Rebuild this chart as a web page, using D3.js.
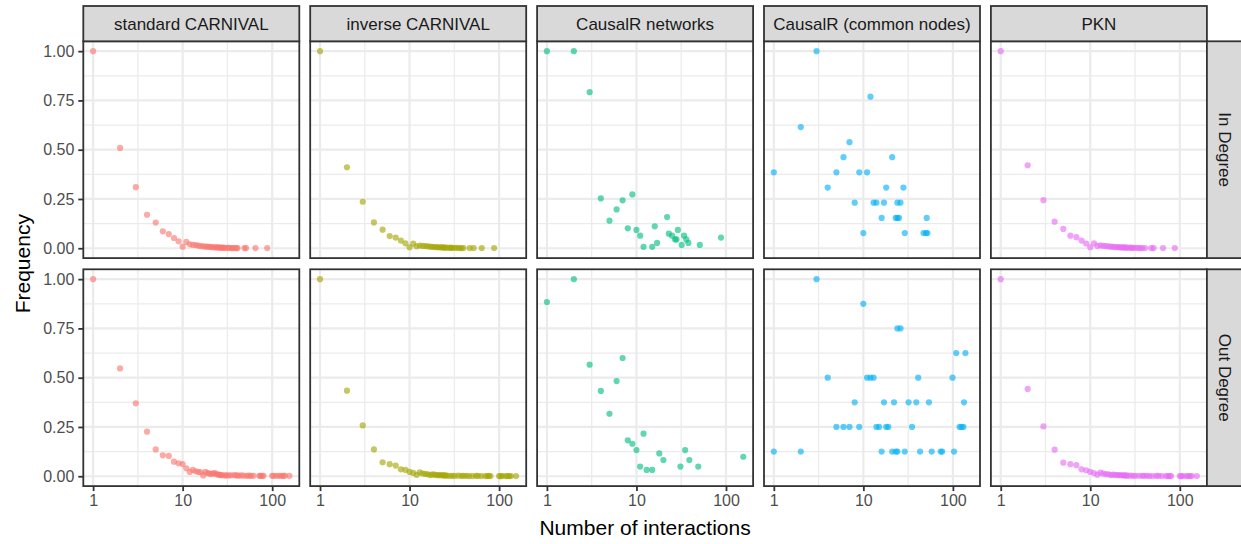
<!DOCTYPE html>
<html>
<head>
<meta charset="utf-8">
<script src="https://cdn.jsdelivr.net/npm/d3@7"></script>
<style>
  html, body { margin: 0; padding: 0; background: #ffffff; }
  svg { display: block; font-family: "Liberation Sans", Arial, Helvetica, sans-serif; }
</style>
</head>
<body>
<svg id="chart" width="1241" height="544"></svg>
<script>
// Facet labels
const methods = ["standard CARNIVAL", "inverse CARNIVAL", "CausalR networks", "CausalR (common nodes)", "PKN"];
const degrees = ["In Degree", "Out Degree"];
const colors = ["#F8766D", "#A3A500", "#00BF7D", "#00B0F6", "#E76BF3"];

// Axis ticks
const xTicks = [1, 10, 100];
const xMinor = [Math.sqrt(10), Math.sqrt(1000)];
const yTicks = [0, 0.25, 0.5, 0.75, 1];
const yMinor = [0.125, 0.375, 0.625, 0.875];
const xMax = 156;

// Degree distributions: [number of interactions, frequency]
const standardIn = [[1,1.000],[2,0.509],[3,0.310],[4,0.170],[5,0.130],[6,0.086],[7,0.072],[8,0.052],[9,0.035],[10,0.008],[11,0.032],[12,0.020],[13,0.017],[14,0.016],[15,0.013],[16,0.011],[17,0.010],[18,0.008],[19,0.008],[20,0.007],[21,0.006],[22,0.005],[23,0.005],[24,0.004],[25,0.004],[26,0.003],[27,0.003],[28,0.003],[29,0.002],[30,0.002],[32,0.002],[33,0.002],[35,0.001],[36,0.001],[38,0.001],[40,0.001],[41,0.001],[49,0.001],[51,0.001],[65,0.001],[88,0.001]];
const standardOut = [[1,1.000],[2,0.547],[3,0.370],[4,0.226],[5,0.136],[6,0.106],[7,0.103],[8,0.074],[9,0.066],[10,0.062],[11,0.040],[12,0.022],[13,0.032],[14,0.025],[15,0.022],[16,0.020],[17,0.004],[18,0.022],[19,0.016],[20,0.013],[21,0.012],[22,0.015],[23,0.016],[24,0.010],[25,0.008],[26,0.007],[27,0.006],[28,0.005],[30,0.004],[31,0.004],[33,0.004],[35,0.005],[38,0.006],[40,0.004],[42,0.003],[45,0.004],[48,0.003],[52,0.002],[55,0.003],[58,0.002],[62,0.002],[72,0.002],[74,0.002],[77,0.002],[80,0.002],[100,0.002],[104,0.002],[112,0.002],[120,0.002],[127,0.002],[133,0.002],[139,0.002],[156,0.002]];
const inverseIn = [[1,1.000],[2,0.411],[3,0.236],[4,0.131],[5,0.094],[6,0.062],[7,0.054],[8,0.039],[9,0.025],[10,0.005],[11,0.023],[12,0.010],[13,0.014],[14,0.012],[15,0.011],[16,0.010],[17,0.008],[18,0.007],[19,0.006],[20,0.006],[21,0.005],[22,0.005],[23,0.004],[24,0.004],[25,0.003],[26,0.003],[28,0.003],[29,0.002],[30,0.002],[32,0.002],[34,0.002],[36,0.001],[38,0.001],[40,0.001],[47,0.001],[52,0.001],[64,0.001],[88,0.001]];
const inverseOut = [[1,1.000],[2,0.434],[3,0.258],[4,0.136],[5,0.071],[6,0.061],[7,0.054],[8,0.035],[9,0.032],[10,0.022],[11,0.017],[12,0.007],[13,0.020],[14,0.014],[15,0.012],[16,0.010],[17,0.006],[18,0.009],[19,0.008],[20,0.006],[21,0.006],[22,0.005],[23,0.006],[24,0.004],[25,0.004],[26,0.003],[28,0.002],[30,0.002],[32,0.002],[35,0.003],[38,0.002],[40,0.002],[43,0.002],[46,0.001],[50,0.001],[55,0.002],[58,0.002],[63,0.001],[70,0.001],[74,0.001],[77,0.002],[80,0.001],[100,0.001],[104,0.001],[108,0.001],[118,0.001],[124,0.001],[130,0.001],[136,0.001],[155,0.001]];
const causalIn = [[1,1.000],[2,1.000],[3,0.792],[4,0.253],[5,0.140],[6,0.197],[7,0.243],[8,0.101],[9,0.273],[10,0.093],[11,0.064],[12,0.007],[15,0.007],[16,0.111],[17,0.027],[22,0.158],[23,0.074],[25,0.064],[27,0.045],[28,0.045],[29,0.093],[32,0.017],[34,0.064],[36,0.045],[38,0.027],[51,0.017],[88,0.054]];
const causalOut = [[1,0.884],[2,1.000],[3,0.566],[4,0.433],[5,0.317],[6,0.483],[7,0.600],[8,0.182],[9,0.165],[10,0.133],[11,0.049],[12,0.216],[13,0.032],[15,0.032],[18,0.116],[20,0.082],[31,0.049],[35,0.133],[39,0.082],[49,0.049],[156,0.099]];
const commonIn = [[3,1.000],[12,0.769],[2,0.615],[7,0.538],[6,0.462],[21,0.462],[1,0.385],[5,0.385],[9,0.385],[11,0.385],[4,0.308],[18,0.308],[28,0.308],[8,0.231],[13,0.231],[14,0.231],[17,0.231],[24,0.231],[26,0.231],[16,0.154],[23,0.154],[24,0.154],[25,0.154],[51,0.154],[10,0.077],[29,0.077],[47,0.077],[50,0.077],[52,0.077]];
const commonOut = [[3,1.000],[10,0.875],[24,0.750],[26,0.750],[109,0.625],[138,0.625],[4,0.500],[11,0.500],[12,0.500],[13,0.500],[41,0.500],[99,0.500],[8,0.375],[17,0.375],[22,0.375],[32,0.375],[39,0.375],[54,0.375],[133,0.375],[5,0.250],[6,0.250],[7,0.250],[9,0.250],[14,0.250],[15,0.250],[18,0.250],[19,0.250],[35,0.250],[119,0.250],[125,0.250],[131,0.250],[1,0.125],[2,0.125],[16,0.125],[21,0.125],[23,0.125],[24,0.125],[29,0.125],[43,0.125],[58,0.125],[73,0.125],[76,0.125],[103,0.125]];
const pknIn = [[1,1.000],[2,0.421],[3,0.244],[4,0.135],[5,0.098],[6,0.064],[7,0.056],[8,0.039],[9,0.024],[10,0.005],[11,0.025],[12,0.012],[13,0.015],[14,0.012],[15,0.011],[16,0.009],[17,0.008],[18,0.007],[19,0.006],[20,0.006],[21,0.005],[22,0.004],[23,0.004],[24,0.004],[25,0.003],[26,0.003],[28,0.003],[29,0.002],[30,0.002],[32,0.002],[34,0.002],[36,0.001],[38,0.001],[41,0.001],[48,0.001],[51,0.001],[65,0.001],[88,0.001]];
const pknOut = [[1,1.000],[2,0.443],[3,0.253],[4,0.135],[5,0.069],[6,0.061],[7,0.056],[8,0.035],[9,0.030],[10,0.022],[11,0.016],[12,0.008],[13,0.018],[14,0.013],[15,0.011],[16,0.010],[17,0.006],[18,0.008],[19,0.007],[20,0.006],[21,0.006],[22,0.005],[23,0.005],[24,0.004],[25,0.004],[26,0.003],[28,0.003],[30,0.002],[32,0.002],[35,0.002],[38,0.002],[40,0.002],[43,0.002],[46,0.001],[50,0.001],[55,0.002],[58,0.002],[63,0.001],[70,0.001],[74,0.001],[77,0.001],[80,0.001],[100,0.001],[104,0.001],[108,0.001],[118,0.001],[124,0.001],[130,0.001],[136,0.001],[155,0.001]];

// rows = degree type, columns = method
const series = [
  [standardIn, inverseIn, causalIn, commonIn, pknIn],
  [standardOut, inverseOut, causalOut, commonOut, pknOut]
];

// Layout
const left0 = 83.3, top0 = 41.3;
const PW = 216, PH = 216.8;
const stepX = 226.9, stepY = 228;
const stripH = 35.3, stripW = 36;
const border = "#333333";

const svg = d3.select("#chart");
svg.append("rect").attr("width", 1241).attr("height", 544).attr("fill", "#ffffff");

// Shared scales (log10 x with 5% expansion, linear y with 5% expansion)
const L = Math.log10(xMax);
const x = d3.scaleLog().domain([Math.pow(10, -0.05 * L), Math.pow(10, 1.05 * L)]).range([0, PW]);
const y = d3.scaleLinear().domain([-0.05, 1.05]).range([PH, 0]);

for (let r = 0; r < degrees.length; r++) {
  for (let c = 0; c < methods.length; c++) {
    const g = svg.append("g")
      .attr("transform", `translate(${left0 + c * stepX},${top0 + r * stepY})`);

    g.append("rect").attr("width", PW).attr("height", PH).attr("fill", "#ffffff");

    // minor grid
    g.selectAll(".vminor").data(xMinor).join("line")
      .attr("x1", d => x(d)).attr("x2", d => x(d)).attr("y1", 0).attr("y2", PH)
      .attr("stroke", "#EBEBEB").attr("stroke-width", 1.2);
    g.selectAll(".hminor").data(yMinor).join("line")
      .attr("y1", d => y(d)).attr("y2", d => y(d)).attr("x1", 0).attr("x2", PW)
      .attr("stroke", "#EBEBEB").attr("stroke-width", 1.2);
    // major grid
    g.selectAll(".vmajor").data(xTicks).join("line")
      .attr("x1", d => x(d)).attr("x2", d => x(d)).attr("y1", 0).attr("y2", PH)
      .attr("stroke", "#EBEBEB").attr("stroke-width", 2.2);
    g.selectAll(".hmajor").data(yTicks).join("line")
      .attr("y1", d => y(d)).attr("y2", d => y(d)).attr("x1", 0).attr("x2", PW)
      .attr("stroke", "#EBEBEB").attr("stroke-width", 2.2);

    // points
    g.selectAll("circle").data(series[r][c]).join("circle")
      .attr("cx", d => x(d[0])).attr("cy", d => y(d[1])).attr("r", 3.1)
      .attr("fill", colors[c]).attr("fill-opacity", 0.62);

    // panel border
    g.append("rect").attr("width", PW).attr("height", PH)
      .attr("fill", "none").attr("stroke", border).attr("stroke-width", 1.8);

    // column strip
    if (r === 0) {
      const s = g.append("g").attr("transform", `translate(0,${-stripH})`);
      s.append("rect").attr("width", PW).attr("height", stripH)
        .attr("fill", "#D9D9D9").attr("stroke", border).attr("stroke-width", 1.8);
      s.append("text").attr("x", PW / 2).attr("y", stripH / 2 + 6)
        .attr("text-anchor", "middle").attr("font-size", 17).attr("fill", "#1A1A1A")
        .text(methods[c]);
    }
    // row strip
    if (c === methods.length - 1) {
      const s = g.append("g").attr("transform", `translate(${PW},0)`);
      s.append("rect").attr("width", stripW).attr("height", PH)
        .attr("fill", "#D9D9D9").attr("stroke", border).attr("stroke-width", 1.8);
      s.append("text")
        .attr("transform", `translate(${stripW / 2 - 6},${PH / 2}) rotate(90)`)
        .attr("text-anchor", "middle").attr("font-size", 17).attr("fill", "#1A1A1A")
        .text(degrees[r]);
    }
    // y axis
    if (c === 0) {
      const ax = g.append("g").call(d3.axisLeft(y).tickValues(yTicks).tickFormat(d3.format(".2f")).tickSize(5).tickPadding(4));
      ax.select(".domain").remove();
      ax.selectAll(".tick line").attr("stroke", border).attr("stroke-width", 1.8);
      ax.selectAll(".tick text").attr("font-size", 16).attr("fill", "#4D4D4D")
        .attr("font-family", "Liberation Sans, Arial, sans-serif");
    }
    // x axis
    if (r === degrees.length - 1) {
      const ax = g.append("g").attr("transform", `translate(0,${PH})`)
        .call(d3.axisBottom(x).tickValues(xTicks).tickFormat(d3.format("d")).tickSize(5).tickPadding(4));
      ax.select(".domain").remove();
      ax.selectAll(".tick line").attr("stroke", border).attr("stroke-width", 1.8);
      ax.selectAll(".tick text").attr("font-size", 16).attr("fill", "#4D4D4D")
        .attr("font-family", "Liberation Sans, Arial, sans-serif");
    }
  }
}

// Axis titles
const plotRight = left0 + 4 * stepX + PW;
svg.append("text")
  .attr("x", (left0 + plotRight) / 2).attr("y", 535)
  .attr("text-anchor", "middle").attr("font-size", 21).attr("fill", "#000000")
  .text("Number of interactions");
svg.append("text")
  .attr("transform", `translate(30,${(top0 + top0 + stepY + PH) / 2}) rotate(-90)`)
  .attr("text-anchor", "middle").attr("font-size", 21).attr("fill", "#000000")
  .text("Frequency");
</script>
</body>
</html>
